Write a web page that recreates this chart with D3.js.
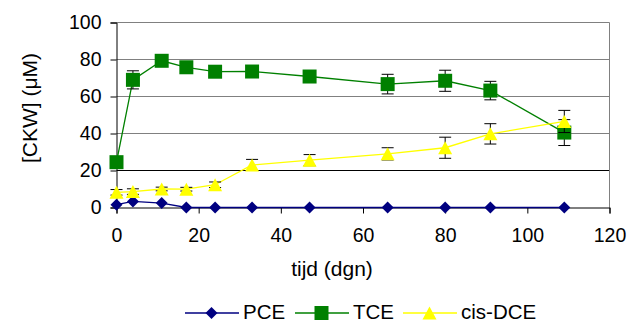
<!DOCTYPE html>
<html>
<head>
<meta charset="utf-8">
<script src="https://cdn.jsdelivr.net/npm/d3@7"></script>
<style>
  body { margin: 0; background: #fff; }
  text { font-family: "Liberation Sans", Arial, sans-serif; fill: #000; }
</style>
</head>
<body>
<div id="chart-area"></div>
<script>

// data
let days = [0, 4, 11, 17, 24, 33, 47, 66, 80, 91, 109];
let pce = [1.5, 3.3, 2.4, 0, 0, 0, 0, 0, 0, 0, 0];
let pceErr = [0, 0, 0, 0, 0, 0, 0, 0, 0, 0, 0];
let tce = [24.5, 69, 79.3, 75.8, 73.4, 73.5, 70.8, 66.7, 68.5, 63.2, 40.5];
let tceErr = [1.5, 4.9, 0.5, 1.5, 1.3, 1, 1, 5.3, 5.7, 5, 7];
let dce = [8.2, 8.6, 10, 9.9, 12.3, 23, 25.6, 29, 32.3, 39.8, 46.5];
let dceErr = [1.5, 1.5, 1, 1, 1.5, 3, 3, 3.3, 5.7, 5.5, 6];

let xTicks = [0, 20, 40, 60, 80, 100, 120];
let yTicks = [0, 20, 40, 60, 80, 100];
let seriesNames = ["PCE", "TCE", "cis-DCE"];

let margin = {top: 22.5, right: 19.5, bottom: 114.5, left: 116.5};
let width = 629 - margin.left - margin.right;
let height = 322 - margin.top - margin.bottom;

let svg = d3.select("#chart-area").append("svg")
    .attr("width", 629)
    .attr("height", 322);

let g = svg.append("g")
    .attr("transform", "translate(" + margin.left + "," + margin.top + ")");

let x = d3.scaleLinear().domain([0, 120]).range([0, width]);
let y = d3.scaleLinear().domain([0, 100]).range([height, 0]);

// gridlines
g.selectAll(".grid")
    .data(yTicks.filter(d => d > 0))
    .enter().append("line")
    .attr("class", "grid")
    .attr("x1", 0)
    .attr("x2", width)
    .attr("y1", d => y(d))
    .attr("y2", d => y(d))
    .attr("stroke", d => d == 20 ? "#000" : "#808080")
    .attr("stroke-width", 1);

// right border of the plot area
g.append("line")
    .attr("x1", width).attr("x2", width)
    .attr("y1", 0).attr("y2", height)
    .attr("stroke", "#808080");

// axes
let yAxis = d3.axisLeft(y).tickValues(yTicks).tickSize(6).tickPadding(9);
let xAxis = d3.axisBottom(x).tickValues(xTicks).tickSize(6).tickPadding(15);

let yAxisGroup = g.append("g").attr("class", "y-axis axis").call(yAxis);
let xAxisGroup = g.append("g").attr("class", "x-axis axis")
    .attr("transform", "translate(0," + height + ")")
    .call(xAxis);

g.selectAll(".axis path").attr("stroke", "#000");
g.selectAll(".axis line").attr("stroke", "#000");
g.selectAll(".axis text")
    .style("font-family", "'Liberation Sans', Arial, sans-serif")
    .style("font-size", "19.5px")
    .attr("fill", "#000");
yAxisGroup.selectAll("text").attr("dy", "0.29em");

// axis titles
svg.append("text")
    .attr("x", 332)
    .attr("y", 275.5)
    .attr("text-anchor", "middle")
    .style("font-size", "21px")
    .text("tijd (dgn)");

svg.append("text")
    .attr("transform", "translate(36.5,108) rotate(-90)")
    .attr("text-anchor", "middle")
    .style("font-size", "21px")
    .text("[CKW] (μM)");

// marker shapes
function diamond(s) {
    return "M0," + (-s) + "L" + s + ",0L0," + s + "L" + (-s) + ",0Z";
}
function square(s) {
    return "M" + (-s) + "," + (-s) + "H" + s + "V" + s + "H" + (-s) + "Z";
}
function triangle(s) {
    return "M0," + (-s) + "L" + (s + 0.5) + "," + s + "H" + (-s - 0.5) + "Z";
}

let series = [
    {name: seriesNames[0], values: pce, err: pceErr, color: "#000080", shape: diamond, r: 6},
    {name: seriesNames[1], values: tce, err: tceErr, color: "#008000", shape: square, r: 7},
    {name: seriesNames[2], values: dce, err: dceErr, color: "#FFFF00", shape: triangle, r: 6.5}
];

const line = d3.line()
    .x(d => x(d.day))
    .y(d => y(d.value));

series.forEach(s => {
    let pts = days.map((d, i) => ({day: d, value: s.values[i], err: s.err[i]}));

    g.append("path")
        .datum(pts)
        .attr("d", line)
        .attr("fill", "none")
        .attr("stroke", s.color)
        .attr("stroke-width", 1.3);

    // error bars
    let eb = g.append("g").selectAll("g")
        .data(pts.filter(d => d.err > 0))
        .enter().append("g")
        .attr("stroke", "#000")
        .attr("stroke-width", 1);
    eb.append("line")
        .attr("x1", d => x(d.day)).attr("x2", d => x(d.day))
        .attr("y1", d => y(d.value + d.err)).attr("y2", d => y(d.value - d.err));
    eb.append("line")
        .attr("x1", d => x(d.day) - 6).attr("x2", d => x(d.day) + 6)
        .attr("y1", d => y(d.value + d.err)).attr("y2", d => y(d.value + d.err));
    eb.append("line")
        .attr("x1", d => x(d.day) - 6).attr("x2", d => x(d.day) + 6)
        .attr("y1", d => y(d.value - d.err)).attr("y2", d => y(d.value - d.err));

    g.append("g").selectAll("path")
        .data(pts)
        .enter().append("path")
        .attr("transform", d => "translate(" + x(d.day) + "," + y(d.value) + ")")
        .attr("d", s.shape(s.r))
        .attr("fill", s.color);
});

// legend
let legendX = [185, 295, 403];
let legend = svg.append("g").attr("class", "legend");
series.forEach((s, i) => {
    let lx = legendX[i];
    legend.append("line")
        .attr("x1", lx).attr("x2", lx + 54)
        .attr("y1", 313).attr("y2", 313)
        .attr("stroke", s.color)
        .attr("stroke-width", 1.3);
    legend.append("path")
        .attr("transform", "translate(" + (lx + 26.5) + ",313)")
        .attr("d", s.shape(s.r))
        .attr("fill", s.color);
    legend.append("text")
        .attr("x", lx + 58)
        .attr("y", 318.5)
        .style("font-size", "20.5px")
        .text(s.name);
});

</script>
</body>
</html>
